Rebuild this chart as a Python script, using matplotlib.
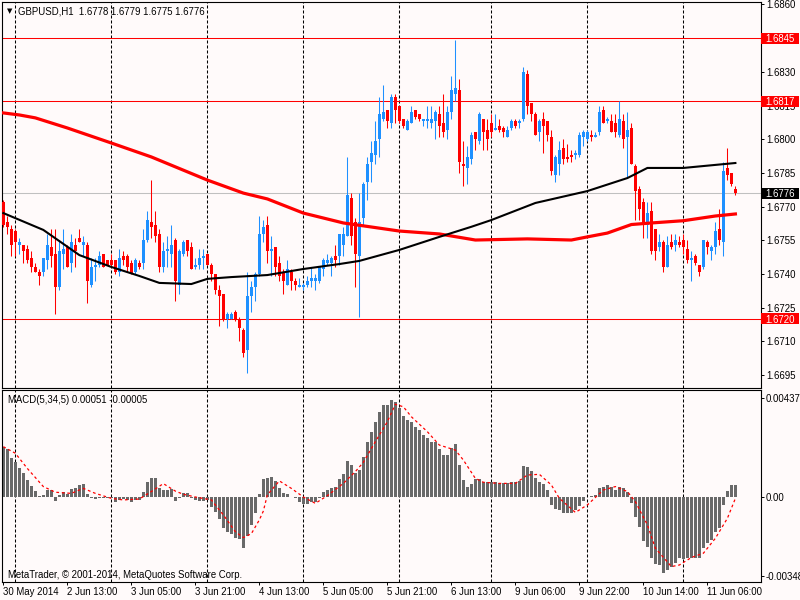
import matplotlib

matplotlib.use("Agg")

import matplotlib.pyplot as plt
import matplotlib.transforms as mtransforms
import numpy as np
from matplotlib.patches import Rectangle

SYMBOL_TITLE = "GBPUSD,H1  1.6778 1.6779 1.6775 1.6776"
MACD_TITLE = "MACD(5,34,5) 0.00051 -0.00005"
COPYRIGHT = "MetaTrader, © 2001-2014, MetaQuotes Software Corp."

# Velas H1, una por barra
open_prices = [
    1.6772, 1.6763, 1.6760, 1.6759, 1.6753, 1.6753, 1.6751, 1.6747, 1.6743, 1.6741,
    1.6741, 1.6746, 1.6752, 1.6749, 1.6734, 1.6749, 1.6752, 1.6745, 1.6753, 1.6756,
    1.6753, 1.6753, 1.6735, 1.6743, 1.6744, 1.6749, 1.6746, 1.6746, 1.6746, 1.6741,
    1.6748, 1.6748, 1.6745, 1.6741, 1.6745, 1.6745, 1.6755, 1.6763, 1.6762, 1.6758,
    1.6743, 1.6750, 1.6749, 1.6755, 1.6735, 1.6749, 1.6755, 1.6752, 1.6743, 1.6744,
    1.6747, 1.6749, 1.6744, 1.6740, 1.6733, 1.6731, 1.6720, 1.6720, 1.6723, 1.6720,
    1.6715, 1.6706, 1.6730, 1.6734, 1.6740, 1.6758, 1.6762, 1.6750, 1.6752, 1.6745,
    1.6741, 1.6735, 1.6741, 1.6737, 1.6734, 1.6734, 1.6735, 1.6737, 1.6737, 1.6737,
    1.6742, 1.6745, 1.6745, 1.6748, 1.6748, 1.6753, 1.6757, 1.6774, 1.6763, 1.6748,
    1.6765, 1.6781, 1.6790, 1.6793, 1.6800, 1.6809, 1.6813, 1.6807, 1.6819, 1.6815,
    1.6809, 1.6804, 1.6807, 1.6813, 1.6811, 1.6808, 1.6808, 1.6807, 1.6808, 1.6811,
    1.6807, 1.6804, 1.6812, 1.6820, 1.6822, 1.6789, 1.6787, 1.6791, 1.6803, 1.6799,
    1.6809, 1.6804, 1.6807, 1.6804, 1.6806, 1.6805, 1.6801, 1.6805, 1.6808, 1.6807,
    1.6809, 1.6829, 1.6816, 1.6811, 1.6803, 1.6809, 1.6808, 1.6801, 1.6784, 1.6789,
    1.6796, 1.6792, 1.6793, 1.6793, 1.6793, 1.6801, 1.6800, 1.6802, 1.6801, 1.6803,
    1.6813, 1.6808, 1.6808, 1.6807, 1.6802, 1.6808, 1.6801, 1.6805, 1.6788, 1.6778,
    1.6772, 1.6762, 1.6768, 1.6760, 1.6752, 1.6754, 1.6743, 1.6754, 1.6753, 1.6754,
    1.6755, 1.6751, 1.6746, 1.6748, 1.6744, 1.6743, 1.6754, 1.6750, 1.6752, 1.6760,
    1.6754, 1.6787, 1.6785, 1.6778,
]
high_prices = [
    1.6773, 1.6766, 1.6762, 1.6760, 1.6756, 1.6753, 1.6753, 1.6750, 1.6745, 1.6742,
    1.6747, 1.6758, 1.6760, 1.6760, 1.6755, 1.6760, 1.6753, 1.6758, 1.6756, 1.6760,
    1.6757, 1.6754, 1.6747, 1.6747, 1.6750, 1.6749, 1.6746, 1.6749, 1.6746, 1.6751,
    1.6750, 1.6749, 1.6746, 1.6747, 1.6746, 1.6760, 1.6768, 1.6782, 1.6768, 1.6760,
    1.6754, 1.6757, 1.6762, 1.6756, 1.6751, 1.6755, 1.6755, 1.6754, 1.6747, 1.6751,
    1.6751, 1.6749, 1.6745, 1.6740, 1.6735, 1.6731, 1.6723, 1.6723, 1.6724, 1.6721,
    1.6716, 1.6741, 1.6737, 1.6741, 1.6766, 1.6764, 1.6766, 1.6757, 1.6752, 1.6748,
    1.6742, 1.6746, 1.6742, 1.6738, 1.6738, 1.6736, 1.6739, 1.6743, 1.6740, 1.6743,
    1.6747, 1.6749, 1.6748, 1.6753, 1.6758, 1.6761, 1.6792, 1.6776, 1.6765, 1.6776,
    1.6781, 1.6792, 1.6799, 1.6808, 1.6819, 1.6824, 1.6813, 1.6820, 1.6820, 1.6815,
    1.6809, 1.6809, 1.6815, 1.6813, 1.6811, 1.6809, 1.6815, 1.6815, 1.6813, 1.6815,
    1.6820, 1.6815, 1.6828, 1.6844, 1.6827, 1.6799, 1.6797, 1.6803, 1.6803, 1.6812,
    1.6809, 1.6809, 1.6811, 1.6811, 1.6809, 1.6806, 1.6806, 1.6809, 1.6809, 1.6809,
    1.6832, 1.6831, 1.6816, 1.6812, 1.6809, 1.6812, 1.6808, 1.6804, 1.6793, 1.6799,
    1.6800, 1.6798, 1.6795, 1.6795, 1.6803, 1.6804, 1.6804, 1.6804, 1.6803, 1.6815,
    1.6815, 1.6810, 1.6811, 1.6811, 1.6817, 1.6811, 1.6812, 1.6807, 1.6789, 1.6779,
    1.6774, 1.6772, 1.6772, 1.6760, 1.6758, 1.6755, 1.6757, 1.6758, 1.6758, 1.6757,
    1.6758, 1.6755, 1.6750, 1.6749, 1.6744, 1.6755, 1.6755, 1.6753, 1.6763, 1.6769,
    1.6790, 1.6796, 1.6785, 1.6779,
]
low_prices = [
    1.6761, 1.6758, 1.6748, 1.6748, 1.6749, 1.6745, 1.6745, 1.6741, 1.6741, 1.6735,
    1.6739, 1.6742, 1.6743, 1.6722, 1.6733, 1.6742, 1.6743, 1.6741, 1.6743, 1.6754,
    1.6748, 1.6727, 1.6734, 1.6737, 1.6743, 1.6743, 1.6744, 1.6743, 1.6740, 1.6739,
    1.6744, 1.6741, 1.6740, 1.6740, 1.6742, 1.6742, 1.6754, 1.6756, 1.6754, 1.6741,
    1.6741, 1.6743, 1.6743, 1.6728, 1.6731, 1.6748, 1.6748, 1.6742, 1.6742, 1.6742,
    1.6742, 1.6744, 1.6737, 1.6731, 1.6717, 1.6719, 1.6716, 1.6720, 1.6719, 1.6710,
    1.6703, 1.6696, 1.6723, 1.6728, 1.6739, 1.6754, 1.6745, 1.6739, 1.6739, 1.6737,
    1.6731, 1.6735, 1.6733, 1.6733, 1.6734, 1.6733, 1.6734, 1.6734, 1.6733, 1.6736,
    1.6739, 1.6744, 1.6739, 1.6743, 1.6744, 1.6748, 1.6757, 1.6753, 1.6734, 1.6721,
    1.6762, 1.6773, 1.6781, 1.6789, 1.6792, 1.6808, 1.6805, 1.6805, 1.6807, 1.6807,
    1.6805, 1.6804, 1.6807, 1.6809, 1.6808, 1.6806, 1.6805, 1.6805, 1.6800, 1.6801,
    1.6801, 1.6800, 1.6809, 1.6817, 1.6785, 1.6779, 1.6780, 1.6789, 1.6795, 1.6798,
    1.6795, 1.6795, 1.6801, 1.6804, 1.6803, 1.6801, 1.6801, 1.6804, 1.6805, 1.6805,
    1.6808, 1.6811, 1.6808, 1.6802, 1.6799, 1.6794, 1.6799, 1.6784, 1.6781, 1.6784,
    1.6789, 1.6790, 1.6790, 1.6791, 1.6792, 1.6797, 1.6799, 1.6799, 1.6801, 1.6802,
    1.6807, 1.6807, 1.6803, 1.6801, 1.6801, 1.6796, 1.6783, 1.6789, 1.6764, 1.6764,
    1.6756, 1.6756, 1.6749, 1.6746, 1.6750, 1.6741, 1.6743, 1.6751, 1.6750, 1.6752,
    1.6749, 1.6745, 1.6737, 1.6744, 1.6739, 1.6742, 1.6749, 1.6746, 1.6749, 1.6753,
    1.6748, 1.6782, 1.6779, 1.6775,
]
close_prices = [
    1.6762, 1.6761, 1.6753, 1.6754, 1.6754, 1.6750, 1.6746, 1.6743, 1.6741, 1.6739,
    1.6747, 1.6753, 1.6748, 1.6734, 1.6750, 1.6751, 1.6743, 1.6754, 1.6750, 1.6754,
    1.6754, 1.6737, 1.6743, 1.6744, 1.6748, 1.6743, 1.6744, 1.6744, 1.6741, 1.6747,
    1.6746, 1.6743, 1.6740, 1.6746, 1.6743, 1.6755, 1.6764, 1.6761, 1.6757, 1.6743,
    1.6750, 1.6751, 1.6753, 1.6737, 1.6750, 1.6754, 1.6750, 1.6742, 1.6744, 1.6747,
    1.6748, 1.6744, 1.6740, 1.6733, 1.6730, 1.6720, 1.6722, 1.6722, 1.6720, 1.6716,
    1.6705, 1.6730, 1.6734, 1.6740, 1.6758, 1.6761, 1.6750, 1.6751, 1.6743, 1.6739,
    1.6737, 1.6742, 1.6737, 1.6735, 1.6735, 1.6735, 1.6737, 1.6738, 1.6738, 1.6743,
    1.6746, 1.6746, 1.6747, 1.6746, 1.6758, 1.6758, 1.6775, 1.6757, 1.6749, 1.6763,
    1.6780, 1.6789, 1.6794, 1.6799, 1.6811, 1.6812, 1.6808, 1.6819, 1.6813, 1.6808,
    1.6806, 1.6808, 1.6812, 1.6810, 1.6809, 1.6809, 1.6809, 1.6809, 1.6812, 1.6806,
    1.6803, 1.6812, 1.6822, 1.6823, 1.6790, 1.6788, 1.6792, 1.6802, 1.6800, 1.6811,
    1.6803, 1.6800, 1.6803, 1.6805, 1.6804, 1.6803, 1.6804, 1.6808, 1.6806, 1.6808,
    1.6830, 1.6815, 1.6811, 1.6802, 1.6808, 1.6806, 1.6802, 1.6786, 1.6792, 1.6795,
    1.6791, 1.6791, 1.6792, 1.6794, 1.6802, 1.6803, 1.6803, 1.6801, 1.6802, 1.6812,
    1.6807, 1.6809, 1.6803, 1.6803, 1.6809, 1.6800, 1.6804, 1.6789, 1.6777, 1.6769,
    1.6762, 1.6767, 1.6750, 1.6750, 1.6754, 1.6743, 1.6753, 1.6752, 1.6755, 1.6753,
    1.6752, 1.6746, 1.6747, 1.6745, 1.6741, 1.6755, 1.6752, 1.6752, 1.6759, 1.6755,
    1.6786, 1.6784, 1.6780, 1.6776,
]

# Histograma MACD(5,34,5), una barra por vela
macd_hist = [
    0.00222, 0.00212, 0.00173, 0.00153, 0.00129, 0.00104, 0.00075, 0.00050, 0.00026, 0.00006,
    0.00009, 0.00031, 0.00031, -0.00018, 0.00009, 0.00024, 0.00012, 0.00035, 0.00041, 0.00053,
    0.00057, 0.00012, -0.00003, -0.00009, -0.00006, -0.00003, -0.00006, -0.00006, -0.00021, -0.00013,
    -0.00009, -0.00013, -0.00021, -0.00013, -0.00013, 0.00024, 0.00065, 0.00085, 0.00085, 0.00038,
    0.00031, 0.00031, 0.00035, -0.00018, -0.00003, 0.00016, 0.00016, -0.00003, -0.00013, -0.00018,
    -0.00018, -0.00013, -0.00043, -0.00068, -0.00097, -0.00135, -0.00156, -0.00165, -0.00179, -0.00185,
    -0.00223, -0.00170, -0.00123, -0.00072, 0.00012, 0.00079, 0.00082, 0.00088, 0.00071, 0.00041,
    0.00019, 0.00015, 0.00001, -0.00003, -0.00021, -0.00032, -0.00032, -0.00021, -0.00021, -0.00006,
    0.00021, 0.00031, 0.00038, 0.00046, 0.00079, 0.00100, 0.00159, 0.00141, 0.00106, 0.00119,
    0.00178, 0.00241, 0.00288, 0.00329, 0.00376, 0.00406, 0.00406, 0.00428, 0.00417, 0.00391,
    0.00359, 0.00340, 0.00332, 0.00310, 0.00295, 0.00273, 0.00259, 0.00241, 0.00241, 0.00212,
    0.00185, 0.00185, 0.00215, 0.00232, 0.00141, 0.00075, 0.00046, 0.00056, 0.00079, 0.00078,
    0.00068, 0.00065, 0.00068, 0.00068, 0.00060, 0.00060, 0.00060, 0.00068, 0.00068, 0.00071,
    0.00138, 0.00134, 0.00115, 0.00085, 0.00068, 0.00056, 0.00031, -0.00035, -0.00053, -0.00057,
    -0.00072, -0.00072, -0.00072, -0.00057, -0.00038, -0.00018, 0.00001, 0.00006, 0.00009, 0.00041,
    0.00046, 0.00053, 0.00046, 0.00031, 0.00046, 0.00041, 0.00024, -0.00028, -0.00087, -0.00131,
    -0.00194, -0.00219, -0.00270, -0.00297, -0.00300, -0.00337, -0.00322, -0.00307, -0.00292, -0.00270,
    -0.00273, -0.00267, -0.00267, -0.00267, -0.00267, -0.00223, -0.00204, -0.00190, -0.00153, -0.00135,
    -0.00035, 0.00026, 0.00053, 0.00053,
]

# Linea de senal (puntos leidos sobre la curva punteada)
signal_bars = [
    0, 3, 6, 10, 13, 17, 20, 23, 27, 30, 34, 37, 40, 43, 45, 48, 52, 55, 58, 60,
    62, 64, 65, 66, 69, 72, 75, 78, 81, 85, 88, 90, 93, 96, 98, 100, 102, 106, 109,
    113, 115, 118, 120, 124, 128, 131, 134, 137, 139, 143, 146, 150, 153, 156, 158,
    161, 163, 167, 169, 172, 175, 178, 181, 183,
]
signal_values = [
    0.00222, 0.00193, 0.00126, 0.00046, 0.00021, 0.00016, 0.00038, 0.00016, -0.00006, -0.00013,
    -0.00009, 0.00024, 0.00059, 0.00026, 0.00012, 0.00000, -0.00013, -0.00079, -0.00153, -0.00179,
    -0.00162, -0.00101, -0.00062, 0.00009, 0.00071, 0.00038, 0.00000, -0.00028, 0.00006, 0.00060,
    0.00112, 0.00153, 0.00244, 0.00332, 0.00409, 0.00398, 0.00354, 0.00288, 0.00229,
    0.00207, 0.00163, 0.00082, 0.00065, 0.00060, 0.00060, 0.00097, 0.00100, 0.00053, -0.00006,
    -0.00068, -0.00035, 0.00031, 0.00046, 0.00024, -0.00021,
    -0.00123, -0.00226, -0.00307, -0.00300, -0.00267, -0.00248, -0.00182, -0.00094, -0.00006,
]

# Medias moviles sobre el precio
slow_ma_bars = [0, 4, 8, 16, 27, 37, 51, 60, 66, 75, 85, 99, 109, 118, 131, 142, 146, 151, 157, 162, 170, 178, 183]
slow_ma_values = [
    1.68117, 1.68108, 1.68095, 1.68050, 1.67983, 1.67921, 1.67818, 1.67760, 1.67734, 1.67671,
    1.67627, 1.67591, 1.67578, 1.67551, 1.67556, 1.67551, 1.67565, 1.67582, 1.67620, 1.67627,
    1.67637, 1.67658, 1.67667,
]
fast_ma_bars = [0, 10, 19, 27, 34, 39, 47, 51, 57, 66, 75, 84, 89, 99, 109, 117, 122, 133, 146, 156, 161, 170, 183]
fast_ma_values = [
    1.67671, 1.67596, 1.67484, 1.67431, 1.67391, 1.67360, 1.67355, 1.67378, 1.67386, 1.67395,
    1.67422, 1.67444, 1.67458, 1.67507, 1.67565, 1.67610, 1.67640, 1.67716, 1.67769, 1.67827,
    1.67872, 1.67872, 1.67894,
]

level_prices = [1.6845, 1.6817, 1.6720]
last_price = 1.6776

# 1.6845 queda tapado por la etiqueta de la linea, como en el original
price_ticks = [1.6860, 1.6830, 1.6815, 1.6800, 1.6785, 1.6770, 1.6755, 1.6740, 1.6725, 1.6710, 1.6695]
macd_ticks = [0.00437, 0.0, -0.00348]
macd_tick_labels = ["0.00437", "0.00", "-0.00348"]

day_start_bars = [3, 27, 51, 75, 99, 122, 146, 170]
date_tick_bars = [0, 16, 32, 48, 64, 80, 96, 112, 128, 144, 160, 176]
date_labels = [
    "30 May 2014", "2 Jun 13:00", "3 Jun 05:00", "3 Jun 21:00", "4 Jun 13:00", "5 Jun 05:00",
    "5 Jun 21:00", "6 Jun 13:00", "9 Jun 06:00", "9 Jun 22:00", "10 Jun 14:00", "11 Jun 06:00",
]

BG = "#FFFAFA"
BULL = "#1E90FF"
BEAR = "#FF0000"
FS = 6.9
PRICE_LIMITS = (1.66892, 1.68611)
MACD_LIMITS = (-0.00375, 0.00472)
BAR_LIMITS = (-0.33, 189.4)
AX_W_PX = 759


def style_axes(ax):
    ax.set_facecolor(BG)
    for spine in ax.spines.values():
        spine.set_color("black")
        spine.set_linewidth(0.8)
    ax.yaxis.tick_right()
    ax.tick_params(axis="y", direction="out", length=2, width=0.7, pad=1.5,
                   labelsize=FS, colors="black")
    ax.set_xlim(*BAR_LIMITS)
    for bar in day_start_bars:
        ax.axvline(bar, color="black", linewidth=0.75, linestyle=(0, (2.9, 1.9)), zorder=0.5)


def price_tag(ax, price, face):
    """Etiqueta de precio en el eje derecho, como en MetaTrader."""
    trans = mtransforms.blended_transform_factory(ax.transAxes, ax.transData)
    box_h = (PRICE_LIMITS[1] - PRICE_LIMITS[0]) * 11 / 386
    ax.add_patch(Rectangle((1.0, price - box_h / 2), 38 / AX_W_PX, box_h, transform=trans,
                           facecolor=face, edgecolor="none", clip_on=False, zorder=5))
    ax.text(1.0 + 4 / AX_W_PX, price, f"{price:.4f}", transform=trans, color="white",
            fontsize=FS, va="center_baseline", ha="left", clip_on=False, zorder=6)


def draw_price_panel(ax):
    x = np.arange(len(open_prices))
    o = np.array(open_prices)
    h = np.array(high_prices)
    l = np.array(low_prices)
    c = np.array(close_prices)
    colors = np.where(c > o, BULL, BEAR)

    ax.vlines(x, l, h, colors=colors, linewidth=0.75, zorder=2)
    heights = np.maximum(np.abs(c - o), 0.00004)
    ax.bar(x, heights, width=0.75, bottom=np.minimum(o, c), color=colors, linewidth=0, zorder=3)

    ax.plot(slow_ma_bars, slow_ma_values, color="#FF0000", linewidth=2.3, zorder=4)
    ax.plot(fast_ma_bars, fast_ma_values, color="black", linewidth=1.5, zorder=4)

    for level in level_prices:
        ax.axhline(level, color="#FF0000", linewidth=0.75, zorder=1.8)
    ax.axhline(last_price, color="#C0C0C0", linewidth=0.75, zorder=1.7)

    ax.set_ylim(*PRICE_LIMITS)
    ax.set_yticks(price_ticks)
    ax.set_yticklabels([f"{t:.4f}" for t in price_ticks])
    ax.tick_params(axis="x", bottom=False, labelbottom=False)

    for level in level_prices:
        price_tag(ax, level, "#FF0000")
    price_tag(ax, last_price, "black")


def draw_macd_panel(ax):
    x = np.arange(len(macd_hist))
    ax.bar(x, macd_hist, width=0.75, color="#696969", linewidth=0, zorder=2)
    ax.plot(signal_bars, signal_values, color="#FF0000", linewidth=0.9,
            linestyle=(0, (2.2, 2.2)), zorder=3)
    ax.set_ylim(*MACD_LIMITS)
    ax.set_yticks(macd_ticks)
    ax.set_yticklabels(macd_tick_labels)
    ax.set_xticks(date_tick_bars)
    ax.set_xticklabels(date_labels, ha="left")
    ax.tick_params(axis="x", direction="out", length=2.5, width=0.7, pad=1,
                   labelsize=FS, colors="black")


def main():
    plt.rcParams["font.family"] = ["Liberation Sans", "DejaVu Sans"]
    fig = plt.figure(figsize=(8, 6), dpi=100, facecolor=BG)
    ax_main = fig.add_axes([2 / 800, 1 - 388 / 600, AX_W_PX / 800, 386 / 600])
    ax_macd = fig.add_axes([2 / 800, 1 - 582 / 600, AX_W_PX / 800, 192 / 600])

    style_axes(ax_main)
    style_axes(ax_macd)
    draw_price_panel(ax_main)
    draw_macd_panel(ax_macd)

    fig.text(7 / 800, 1 - 11 / 600, "▼", fontsize=5, family="DejaVu Sans",
             va="center", ha="left", color="black")
    fig.text(18 / 800, 1 - 11 / 600, SYMBOL_TITLE, fontsize=FS, va="center", ha="left")
    fig.text(8 / 800, 1 - 400 / 600, MACD_TITLE, fontsize=FS, va="center", ha="left")
    fig.text(8 / 800, 1 - 575 / 600, COPYRIGHT, fontsize=FS, va="center", ha="left")

    fig.savefig("out.png", dpi=100, facecolor=BG)
    plt.close(fig)


if __name__ == "__main__":
    main()
